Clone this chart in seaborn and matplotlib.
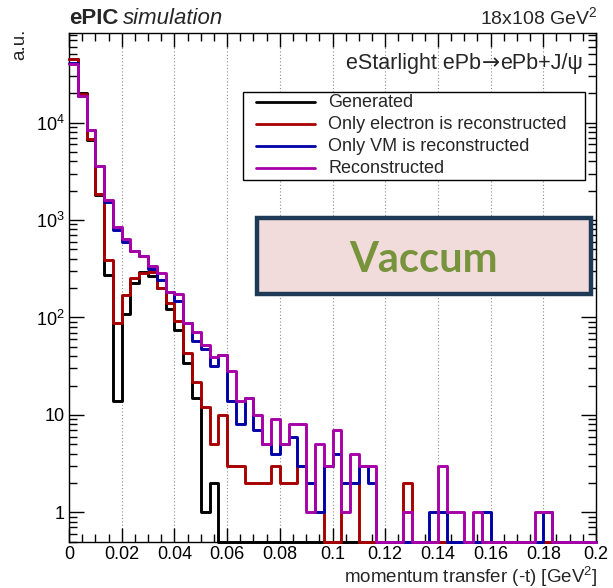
import numpy as np
import pandas as pd
import matplotlib
matplotlib.use("Agg")
import matplotlib.pyplot as plt
import seaborn as sns
from matplotlib.lines import Line2D
from matplotlib.patches import Rectangle
from matplotlib.ticker import FixedLocator, FixedFormatter, MultipleLocator, LogLocator, NullFormatter

# ---------------- data (counts per bin, 60 bins over 0..0.2 GeV^2) ----------------
t_min, t_max, n_bins = 0.0, 0.2, 60

generated = [45000, 20100, 6700, 1800, 272, 14, 108, 226, 292, 265,
             200, 122, 75, 34, 15, 1, 2, 0, 0, 0,
             0, 0, 0, 0, 0, 0, 0, 0, 0, 0,
             0, 0, 0, 0, 0, 0, 0, 0, 0, 0,
             0, 0, 0, 0, 0, 0, 0, 0, 0, 0,
             0, 0, 0, 0, 0, 0, 0, 0, 0, 0]

electron_only = [45300, 19500, 6740, 1850, 387, 88, 169, 255, 283, 294,
                 202, 141, 92, 43, 22, 12, 5, 10, 3, 3,
                 2, 2, 2, 3, 2, 2, 3, 2, 1, 0,
                 0, 2, 2, 0, 0, 0, 0, 0, 2, 0,
                 0, 0, 0, 0, 0, 0, 0, 0, 0, 0,
                 0, 0, 0, 0, 0, 0, 0, 0, 0, 0]

vm_only = [41000, 18700, 8340, 3560, 1535, 798, 596, 482, 425, 311,
           245, 183, 148, 88, 58, 47, 32, 41, 14, 8,
           15, 7, 5, 4, 5, 6, 3, 2, 1, 3,
           4, 2, 2, 3, 2, 0, 0, 0, 0, 0,
           0, 1, 1, 0, 0, 0, 0, 1, 0, 0,
           0, 0, 0, 0, 1, 0, 0, 0, 0, 0]

reconstructed = [40300, 18700, 8340, 3560, 1597, 850, 635, 482, 428, 338,
                 287, 183, 173, 88, 71, 52, 39, 41, 28, 14,
                 15, 10, 5, 9, 5, 8, 8, 1, 5, 3,
                 7, 1, 4, 3, 3, 0, 0, 0, 1, 0,
                 0, 0, 3, 1, 1, 0, 1, 0, 0, 0,
                 0, 0, 0, 1, 1, 0, 0, 0, 0, 0]

series_labels = ["Generated", "Only electron is reconstructed",
                 "Only VM is reconstructed", "Reconstructed"]
series_values = [generated, electron_only, vm_only, reconstructed]
series_colors = ["#000000", "#a80000", "#0000a8", "#a800a8"]

x_tick_values = [0, 0.02, 0.04, 0.06, 0.08, 0.1, 0.12, 0.14, 0.16, 0.18, 0.2]
x_tick_labels = ["0", "0.02", "0.04", "0.06", "0.08", "0.1", "0.12", "0.14", "0.16", "0.18", "0.2"]
y_tick_values = [1, 10, 100, 1000, 10000]
y_tick_labels = ["1", "10", "$10^{2}$", "$10^{3}$", "$10^{4}$"]

# ---------------- style ----------------
sns.set_style("ticks")
plt.rcParams["font.family"] = ["Liberation Sans", "DejaVu Sans"]
plt.rcParams["mathtext.fontset"] = "custom"
plt.rcParams["mathtext.rm"] = "Liberation Sans"
plt.rcParams["mathtext.it"] = "Liberation Sans:italic"
plt.rcParams["mathtext.bf"] = "Liberation Sans:bold"

W, H = 613, 588
fig = plt.figure(figsize=(W / 100, H / 100), dpi=100)
fig.patch.set_facecolor("white")

def fx(px):
    return px / W

def fy(py):
    return 1 - py / H

ax_l, ax_r, ax_t, ax_b = 69, 596, 32.5, 541.7
ax = fig.add_axes([fx(ax_l), fy(ax_b), fx(ax_r) - fx(ax_l), fy(ax_t) - fy(ax_b)])

ymin, ymax = 0.5, 8.4e4
bin_width = (t_max - t_min) / n_bins
centers = t_min + bin_width * (np.arange(n_bins) + 0.5)

for vals, col in zip(series_values, series_colors):
    v = np.asarray(vals, dtype=float)
    v_plot = np.where(v > 0, v, ymin)  # empty bins sit on the frame like in ROOT
    df = pd.DataFrame({"t": centers, "w": v_plot})
    sns.histplot(data=df, x="t", weights="w", bins=n_bins, binrange=(t_min, t_max),
                 element="step", fill=False, color=col, linewidth=2.1, ax=ax,
                 clip_on=False, zorder=3)

ax.set_yscale("log")
ax.set_xlim(t_min, t_max)
ax.set_ylim(ymin, ymax)

ax.xaxis.set_major_locator(FixedLocator(x_tick_values))
ax.xaxis.set_major_formatter(FixedFormatter(x_tick_labels))
ax.xaxis.set_minor_locator(MultipleLocator(0.005))
ax.yaxis.set_major_locator(FixedLocator(y_tick_values))
ax.yaxis.set_major_formatter(FixedFormatter(y_tick_labels))
ax.yaxis.set_minor_locator(LogLocator(base=10, subs=np.arange(2, 10)))
ax.yaxis.set_minor_formatter(NullFormatter())

ax.tick_params(which="both", direction="in", top=True, right=True, colors="black",
               width=1.0, labelsize=13)
ax.tick_params(axis="x", which="major", length=10, pad=3)
ax.tick_params(axis="x", which="minor", length=5.5)
ax.tick_params(axis="y", which="major", length=11, pad=3)
ax.tick_params(axis="y", which="minor", length=5.5)
for s in ax.spines.values():
    s.set_color("black")
    s.set_linewidth(1.0)

ax.xaxis.grid(True, which="major", color="#8c8c8c", linestyle=(0, (1, 2)), linewidth=0.8)
ax.yaxis.grid(False)
ax.set_axisbelow(True)

ax.set_xlabel("")
ax.set_ylabel("")
fig.text(fx(597), fy(583), "momentum transfer (-t) [GeV$^{2}$]", fontsize=13.5,
         ha="right", va="baseline")
fig.text(fx(20), fy(44), "a.u.", rotation=90, ha="center", va="center", fontsize=13.5)

# header texts
t1 = fig.text(fx(69), fy(24), "ePIC", fontsize=16, fontweight="bold", ha="left", va="baseline")
fig.canvas.draw()
bb = t1.get_window_extent()
fig.text(bb.x1 / W + fx(5), fy(24), "simulation", fontsize=16, fontstyle="italic",
         ha="left", va="baseline")
fig.text(fx(597), fy(24), "18x108 GeV$^{2}$", fontsize=14, ha="right", va="baseline")

# process label: built right-to-left so the arrow can come from DejaVu Sans
renderer = fig.canvas.get_renderer()
x_right = 583.0
base_y = fy(69)
pieces = [("ePb+J/\u03c8", ["Liberation Sans"], 15.5),
          ("\u2192", ["DejaVu Sans"], 15.5),
          ("eStarlight ePb", ["Liberation Sans"], 15.5)]
for txt, fam, fs in pieces:
    tt = fig.text(fx(x_right), base_y, txt, fontsize=fs, family=fam, ha="right", va="baseline")
    ext = tt.get_window_extent(renderer=renderer)
    x_right = ext.x0 - 0.5

# legend box drawn in pixel positions
lx0, ly0, lx1, ly1 = 243.3, 91.7, 585, 180
ax.add_patch(Rectangle((fx(lx0), fy(ly1)), fx(lx1) - fx(lx0), fy(ly0) - fy(ly1),
                       transform=fig.transFigure, facecolor="white", edgecolor="black",
                       linewidth=1.0, zorder=6, clip_on=False))
row_y = [101.7, 123.6, 145.6, 167.8]
for lab, col, ry in zip(series_labels, series_colors, row_y):
    ax.add_line(Line2D([fx(256), fx(315)], [fy(ry), fy(ry)], transform=fig.transFigure,
                       color=col, linewidth=2.0, zorder=7, clip_on=False))
    ax.text(fx(328), fy(ry + 1), lab, transform=fig.transFigure, fontsize=13,
            ha="left", va="center", zorder=7, clip_on=False)

# "Vaccum" label box
bx0, by0, bx1, by1 = 257, 218, 591, 294
ax.add_patch(Rectangle((fx(bx0), fy(by1)), fx(bx1) - fx(bx0), fy(by0) - fy(by1),
                       transform=fig.transFigure, facecolor="#f2dcdb", edgecolor="#1f3a56",
                       linewidth=3.2, zorder=6, clip_on=False))
ax.text(fx(0.5 * (bx0 + bx1)), fy(260), "Vaccum", transform=fig.transFigure,
        fontsize=30, fontweight="bold", color="#77933c", family=["Lato", "DejaVu Sans"],
        ha="center", va="center", zorder=7, clip_on=False)

fig.savefig("out.png", dpi=100, facecolor="white")
